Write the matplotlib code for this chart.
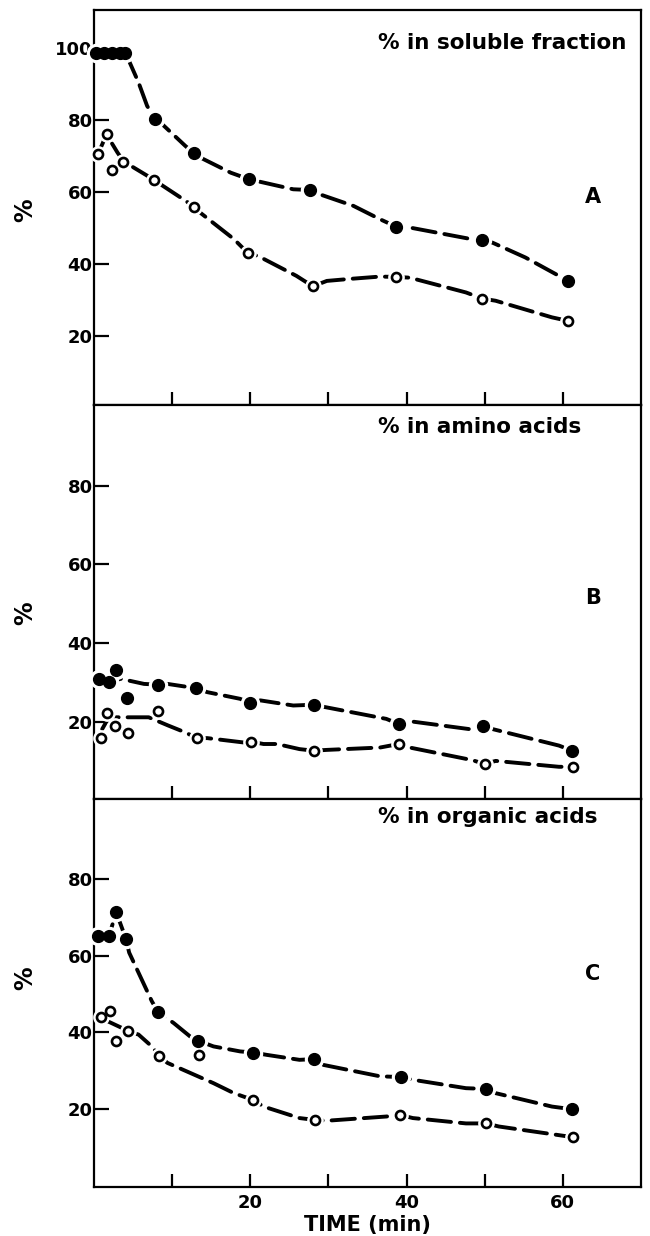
import matplotlib
matplotlib.use("Agg")
import matplotlib.pyplot as plt

# % of label in the soluble fraction (panel A)
sol_t_filled = [0.3, 1.3, 2.3, 3.3, 4.0, 7.8, 12.8, 19.8, 27.7, 38.7, 49.6, 60.7]
sol_filled = [98.7, 98.7, 98.7, 98.7, 98.5, 80.4, 70.8, 63.6, 60.6, 50.4, 46.8, 35.4]
sol_t_open = [0.5, 1.6, 2.3, 3.7, 7.7, 12.8, 19.7, 28.0, 38.7, 49.7, 60.7]
sol_open = [70.5, 76.0, 66.1, 68.5, 63.4, 56.0, 43.1, 33.9, 36.5, 30.5, 24.3]
# hand-drawn curves
sol_curve_t_filled = [0.3, 4.0, 4.5, 5.7, 6.8, 7.8, 8.5, 11.7, 12.8, 13.6, 17.5, 19.8, 20.8,
                      25.5, 27.7, 28.9, 33.2, 36.6, 38.7, 40.4, 48.0, 49.6, 51.0, 55.2, 59.5, 60.7]
sol_curve_filled = [98.7, 98.7, 96.3, 90.4, 83.9, 80.4, 79.3, 72.8, 70.8, 69.6, 65.4, 63.6, 63.1,
                    60.8, 60.6, 59.4, 56.2, 52.5, 50.4, 50.2, 47.1, 46.8, 46.0, 41.9, 36.8, 35.4]
sol_curve_t_open = [0.5, 1.6, 3.0, 3.8, 7.7, 8.5, 11.3, 12.8, 13.6, 17.9, 19.7, 21.0, 25.9,
                    28.0, 29.8, 33.0, 36.6, 38.7, 40.4, 47.6, 49.7, 51.4, 58.6, 60.7]
sol_curve_open = [70.5, 76.0, 71.0, 68.5, 63.4, 62.2, 58.2, 56.0, 54.3, 47.0, 43.1, 42.3, 36.8,
                  33.9, 35.4, 36.0, 36.6, 36.5, 36.3, 32.2, 30.5, 29.9, 25.3, 24.3]

# % in amino acids (panel B)
amino_t_filled = [0.6, 1.9, 2.8, 4.2, 8.2, 13.0, 20.0, 28.1, 39.0, 49.8, 61.2]
amino_filled = [30.9, 30.0, 33.2, 26.0, 29.4, 28.5, 24.7, 24.3, 19.4, 18.8, 12.6]
amino_t_open = [0.85, 1.7, 2.7, 4.4, 8.2, 13.2, 20.1, 28.1, 39.0, 50.0, 61.3]
amino_open = [15.8, 22.1, 19.0, 17.1, 22.6, 15.8, 14.9, 12.6, 14.3, 9.2, 8.5]
amino_curve_t_filled = [0.6, 1.9, 3.4, 6.4, 8.2, 9.4, 12.4, 13.0, 14.5, 18.7, 20.0, 21.3, 25.5,
                        28.1, 29.3, 37.4, 39.0, 40.4, 48.0, 49.8, 51.0, 59.5, 61.2]
amino_curve_filled = [30.9, 30.0, 30.9, 29.6, 29.4, 29.6, 28.7, 28.5, 27.5, 25.8, 24.7, 25.4, 24.1,
                      24.3, 23.8, 20.7, 19.4, 20.1, 18.1, 18.8, 18.1, 13.9, 12.6]
amino_curve_t_open = [1.05, 1.9, 7.0, 9.5, 11.5, 13.2, 14.5, 19.1, 20.1, 21.7, 23.4, 26.3, 28.1,
                      29.8, 36.6, 39.0, 40.4, 48.4, 50.0, 51.4, 59.5, 61.3]
amino_curve_open = [18.1, 21.1, 21.1, 19.0, 17.4, 15.8, 15.8, 14.7, 14.9, 14.3, 14.3, 13.0, 12.6,
                    12.8, 13.4, 14.3, 13.4, 10.2, 9.2, 10.0, 8.5, 8.5]

# % in organic acids (panel C)
org_t_filled = [0.5, 1.9, 2.85, 4.1, 8.2, 13.3, 20.4, 28.2, 39.3, 50.2, 61.2]
org_filled = [65.1, 65.1, 71.3, 64.3, 45.3, 37.8, 34.7, 33.0, 28.3, 25.2, 19.9]
org_t_open = [0.85, 2.0, 2.85, 4.4, 8.3, 13.4, 20.4, 28.3, 39.2, 50.2, 61.3]
org_open = [43.9, 45.5, 37.8, 40.2, 33.9, 34.0, 22.3, 17.1, 18.4, 16.2, 12.6]
org_curve_t_filled = [0.5, 1.9, 2.85, 4.1, 4.5, 7.4, 8.2, 10.2, 12.3, 13.3, 15.3, 18.7, 20.4, 22.1,
                      26.3, 28.2, 29.3, 36.6, 39.3, 40.8, 47.6, 50.2, 51.4, 58.6, 61.2]
org_curve_filled = [65.1, 65.1, 71.3, 64.3, 60.8, 48.1, 45.3, 42.4, 38.9, 37.8, 36.3, 35.0, 34.7, 34.1,
                    32.8, 33.0, 31.5, 28.5, 28.3, 27.6, 25.4, 25.2, 24.1, 20.6, 19.9]
org_curve_t_open = [0.85, 1.3, 3.6, 4.4, 5.7, 7.4, 8.3, 9.4, 15.3, 17.9, 20.4, 21.7, 26.3, 28.3,
                    29.8, 37.4, 39.2, 40.8, 47.6, 50.2, 51.8, 60.3, 61.3]
org_curve_open = [43.9, 43.3, 41.1, 40.2, 39.4, 36.3, 33.9, 32.0, 26.7, 24.1, 22.3, 20.6, 17.6, 17.1,
                  16.9, 18.0, 18.4, 17.6, 16.2, 16.2, 15.4, 12.9, 12.6]

panels = [
    ("% in soluble fraction", "A", (1.0, 110.5), [20, 40, 60, 80, 100],
     sol_t_filled, sol_filled, sol_t_open, sol_open,
     sol_curve_t_filled, sol_curve_filled, sol_curve_t_open, sol_curve_open, 0.917, 0.527, 210),
    ("% in amino acids", "B", (0.3, 100.6), [20, 40, 60, 80],
     amino_t_filled, amino_filled, amino_t_open, amino_open,
     amino_curve_t_filled, amino_curve_filled, amino_curve_t_open, amino_curve_open, 0.944, 0.511, 613),
    ("% in organic acids", "C", (-0.4, 100.9), [20, 40, 60, 80],
     org_t_filled, org_filled, org_t_open, org_open,
     org_curve_t_filled, org_curve_filled, org_curve_t_open, org_curve_open, 0.953, 0.548, 978),
]

plt.rcParams["font.family"] = "DejaVu Sans"
plt.rcParams["font.weight"] = "bold"

fig = plt.figure(figsize=(6.5, 12.36), dpi=100)
H = 1236.0
boxes = [(10, 405), (405, 799), (799, 1187)]
left, width = 94 / 650, 547 / 650

axes = []
for i, (top, bot) in enumerate(boxes):
    ax = fig.add_axes([left, 1 - bot / H, width, (bot - top) / H],
                      sharex=axes[0] if axes else None)
    axes.append(ax)

for ax, p in zip(axes, panels):
    (title, letter, ylim, yticks, tf, yf, to, yo, ctf, cyf, cto, cyo, ty, ly, pct_y) = p
    # dashed freehand curves
    for cx, cy in ((ctf, cyf), (cto, cyo)):
        ax.plot(cx, cy, color="black", lw=2.8, dashes=(6, 2.3), dash_capstyle="round",
                zorder=2)
    # white halo so the curve breaks at each point
    ax.plot(tf, yf, "o", color="white", ms=13, zorder=3, clip_on=False)
    ax.plot(to, yo, "o", color="white", ms=11, zorder=3, clip_on=False)
    ax.plot(tf, yf, "o", color="black", ms=8.5, zorder=4, clip_on=False)
    ax.plot(to, yo, "o", mfc="white", mec="black", mew=1.9, ms=6.5, zorder=4, clip_on=False)

    ax.set_xlim(0, 70)
    ax.set_ylim(*ylim)
    ax.set_yticks(yticks)
    ax.set_yticklabels([str(v) for v in yticks], fontsize=13, fontweight="bold")
    ax.set_xticks([10, 20, 30, 40, 50, 60])
    ax.tick_params(axis="y", direction="in", length=11, width=1.6, pad=1)
    ax.tick_params(axis="x", direction="in", length=9.5, width=1.6, pad=5)
    for s in ax.spines.values():
        s.set_linewidth(1.6)
    fig.text(25 / 650, 1 - pct_y / H, "%", rotation=90, ha="center", va="center",
             fontsize=17, fontweight="bold")
    ax.text(0.519, ty, title, transform=ax.transAxes, ha="left", va="center",
            fontsize=15.5, fontweight="bold")
    ax.text(0.912, ly, letter, transform=ax.transAxes, ha="center", va="center",
            fontsize=15, fontweight="bold")

for ax in axes[:2]:
    ax.tick_params(axis="x", labelbottom=False)
axes[2].set_xticklabels(["", "20", "", "40", "", "60"], fontsize=13, fontweight="bold")
axes[2].set_xlabel("TIME (min)", fontsize=15, fontweight="bold", labelpad=2)

fig.savefig("out.png", dpi=100)
